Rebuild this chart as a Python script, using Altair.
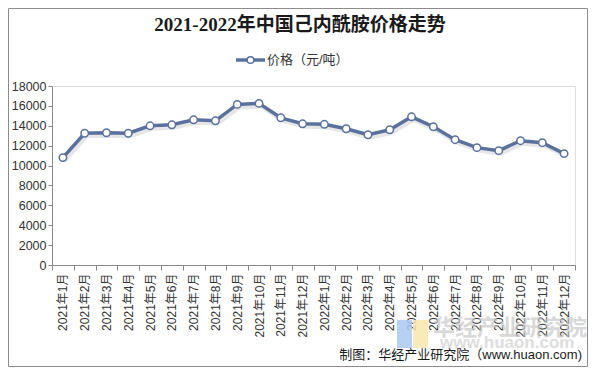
import altair as alt
import pandas as pd

months = ["2021年1月", "2021年2月", "2021年3月", "2021年4月", "2021年5月", "2021年6月",
          "2021年7月", "2021年8月", "2021年9月", "2021年10月", "2021年11月", "2021年12月",
          "2022年1月", "2022年2月", "2022年3月", "2022年4月", "2022年5月", "2022年6月",
          "2022年7月", "2022年8月", "2022年9月", "2022年10月", "2022年11月", "2022年12月"]
prices = [10800, 13250, 13300, 13250, 14000, 14100, 14600, 14500, 16150, 16250, 14800, 14200,
          14150, 13700, 13100, 13600, 14900, 13900, 12600, 11800, 11500, 12500, 12300, 11200]
y_ticks = list(range(0, 18001, 2000))

title_text = "2021-2022年中国己内酰胺价格走势"
legend_text = "价格（元/吨）"
source_text = "制图：华经产业研究院（www.huaon.com)"
wm_text = "华经产业研究院"
wm_url = "www.huaon.com"

W, H = 523, 179
LINE = "#5a719d"
SANS = "Liberation Sans, Arial, Noto Sans CJK SC"
SERIF = "Liberation Serif, DejaVu Serif, Noto Sans CJK SC"

df = pd.DataFrame({"month": months, "price": prices})
one = pd.DataFrame({"a": [0]})

x_enc = alt.X("month:N", sort=months,
              scale=alt.Scale(paddingInner=0, paddingOuter=0),
              axis=alt.Axis(title=None, labelAngle=-90, labelFontSize=12, labelFont=SANS,
                            labelColor="#333333", tickBand="extent", tickSize=5,
                            tickColor="#888888", domainColor="#888888", labelPadding=3))
y_enc = alt.Y("price:Q", scale=alt.Scale(domain=[0, 18000], nice=False),
              axis=alt.Axis(title=None, values=y_ticks, grid=False, labelFontSize=12.5, format="d",
                            labelFont=SANS, labelColor="#333333", tickSize=4,
                            tickColor="#888888", domainColor="#888888", labelPadding=2))

base = alt.Chart(df)
shadow = base.mark_line(color="#777777", strokeWidth=4, opacity=0.18, xOffset=2, yOffset=3).encode(x=x_enc, y=y_enc)
line = base.mark_line(color=LINE, strokeWidth=3.5).encode(x=x_enc, y=y_enc)
pts = base.mark_point(shape="circle", filled=True, fill="white", stroke=LINE, strokeWidth=1.5,
                      size=55, opacity=1).encode(x=x_enc, y=y_enc)

frame = alt.Chart(one).mark_rect(fill=None, stroke="#8c8c8c", strokeWidth=1).encode(
    x=alt.value(-43.5), x2=alt.value(535.5), y=alt.value(-77.5), y2=alt.value(280.5))

title = alt.Chart(one).mark_text(text=title_text, font=SERIF, fontSize=19, fontWeight="bold",
                                 color="#1a1a1a", align="center", baseline="middle").encode(
    x=alt.value(248), y=alt.value(-61))

leg_rule = alt.Chart(one).mark_rule(color=LINE, strokeWidth=3.5).encode(
    x=alt.value(184), x2=alt.value(213), y=alt.value(-26))
leg_pt = alt.Chart(one).mark_point(shape="circle", filled=True, fill="white", stroke=LINE,
                                   strokeWidth=1.5, size=45, opacity=1).encode(
    x=alt.value(198.5), y=alt.value(-26))
leg_txt = alt.Chart(one).mark_text(text=legend_text, font=SANS, fontSize=13, color="#333333",
                                   align="left", baseline="middle").encode(
    x=alt.value(215), y=alt.value(-26))

logo_b = alt.Chart(one).mark_rect(fill="#a9c9f2", opacity=0.85).encode(
    x=alt.value(345), x2=alt.value(360), y=alt.value(234), y2=alt.value(262))
logo_y = alt.Chart(one).mark_rect(fill="#f7e8ad", opacity=0.85).encode(
    x=alt.value(361), x2=alt.value(376), y=alt.value(234), y2=alt.value(262))
wm1 = alt.Chart(one).mark_text(text=wm_text, font=SANS, fontSize=22, fontWeight="bold",
                               color="#c8c8c8", opacity=0.7, align="left", baseline="middle").encode(
    x=alt.value(381), y=alt.value(242))
wm2 = alt.Chart(one).mark_text(text=wm_url, font=SANS, fontSize=17, fontWeight="bold",
                               color="#d0d0d0", opacity=0.7, align="left", baseline="middle").encode(
    x=alt.value(388), y=alt.value(257))

src = alt.Chart(one).mark_text(text=source_text, font=SANS, fontSize=13, color="#1a1a1a",
                               align="right", baseline="middle").encode(
    x=alt.value(530), y=alt.value(269))

chart = alt.layer(frame, logo_b, logo_y, wm1, wm2, shadow, line, pts, title, leg_rule, leg_pt,
                  leg_txt, src).properties(
    width=W, height=H,
    autosize=alt.AutoSizeParams(type="none"),
    padding={"left": 44, "top": 78, "right": 13, "bottom": 102},
).configure_view(stroke=None).configure(background="white")

chart.save("out.html", embed_options={"renderer": "svg", "actions": False})
